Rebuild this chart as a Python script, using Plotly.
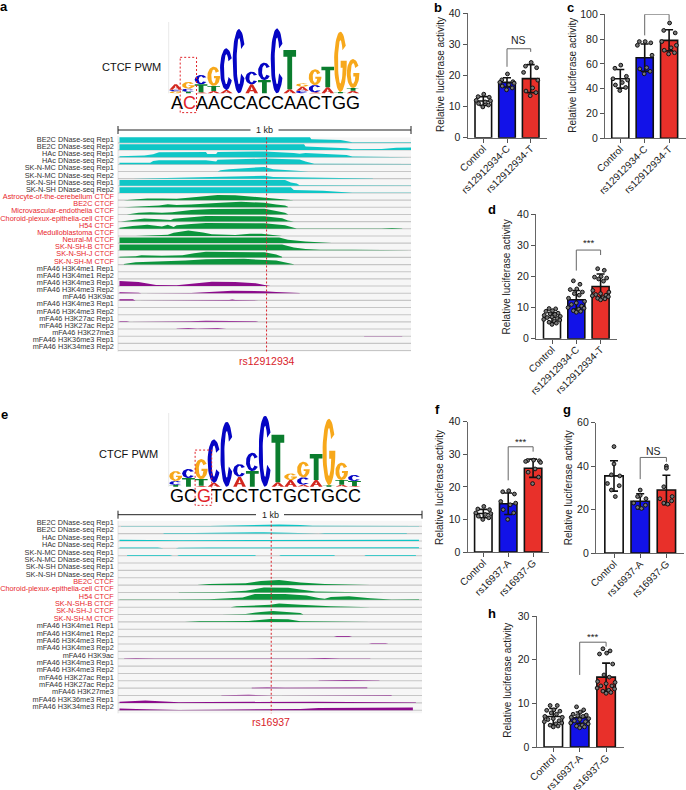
import numpy as np
import plotly.graph_objects as go

W, H = 686, 790
FONT = "Liberation Sans"

# ---------- bar panel data ----------
CATS_B = ["Control", "rs12912934-C", "rs12912934-T"]
CATS_F = ["Control", "rs16937-A", "rs16937-G"]

MEAN_B = [11.8, 17.8, 19.0]
SD_B = [1.4, 1.5, 4.5]
PTS_B = [[14.0, 13.2, 13.0, 12.0, 11.9, 11.5, 11.0, 10.5, 9.9],
         [20.5, 18.6, 18.0, 17.8, 17.5, 17.0, 16.6, 16.0, 15.4],
         [24.2, 23.0, 22.5, 21.0, 18.5, 16.0, 15.0, 14.5, 13.5]]
MEAN_C = [48, 65, 79]
SD_C = [7.5, 11, 8.5]
PTS_C = [[59, 56.5, 50, 48, 47, 45, 43, 41, 38.5],
         [78, 78, 77, 75, 67, 57, 56, 54, 52],
         [93, 87, 85, 78, 75, 73, 71, 69, 68]]
MEAN_D = [6.8, 12.5, 16.8]
SD_D = [1.5, 3.0, 4.0]
PTS_D = [[9.7, 9.6, 9, 8.8, 8.2, 8, 7.8, 7.5, 7.2, 7, 6.8, 6.5, 6.2, 6, 5.6, 5.3, 5, 4.6],
         [18.6, 17.5, 16, 15.8, 15, 14.5, 14, 13, 12, 11.5, 11, 10.5, 10, 9.8, 9.5, 9, 8.8, 8.5],
         [22.5, 22, 20, 19.8, 19.5, 19.2, 18.5, 15.5, 15, 14.5, 14.2, 14, 13.8, 13.5, 13.2, 13, 12.8, 12.5]]
MEAN_F = [11.8, 14.8, 25.7]
SD_F = [1.3, 3.3, 2.8]
PTS_F = [[14, 13.2, 13, 12, 11.8, 11.5, 11, 10.5, 10],
         [18.8, 18.5, 17.8, 15.5, 15, 14.5, 13, 12, 10],
         [28.2, 28.1, 28, 27.8, 27.5, 25.5, 24.5, 23, 21]]
MEAN_G = [35.5, 23.8, 29]
SD_G = [7, 3.5, 6.8]
PTS_G = [[49, 41, 36, 35.5, 32, 31, 29, 26],
         [29, 26.5, 26, 25, 23, 22, 21, 20.5],
         [40, 39, 30.5, 26, 25, 24, 23, 22.5]]
MEAN_H = [7, 6.7, 16]
SD_H = [1.8, 1.3, 3.2]
PTS_H = [[9.5, 9.5, 8.5, 8.4, 8.2, 7.8, 7.5, 7, 6.8, 6.5, 6.3, 6, 5.8, 5.5, 5.3, 5, 4.8, 4.6],
         [9.2, 8.5, 8, 7.5, 7.3, 7.2, 7, 6.8, 6.5, 6.3, 6, 5.8, 5.5, 5.3, 5, 4.8, 4.6, 4.4],
         [22.5, 22, 21.5, 21.3, 19, 16.5, 16, 15, 14.8, 14.5, 14, 14, 13.5, 13.3, 13, 12.8, 12.5, 12.3]]

OFFSET_9 = [0.02, -0.22, 0.25, -0.3, 0.3, 0.08, -0.2, 0.22, -0.02]
OFFSET_8 = [0.0, 0.0, -0.1, 0.22, -0.25, 0.2, -0.1, 0.05]
OFFSET_18 = [-0.12, 0.15, 0.02, -0.25, 0.25, -0.08, 0.12, -0.32, 0.34, 0.0,
             -0.2, 0.22, -0.34, 0.32, 0.1, -0.12, 0.18, 0.0]

BAR_COLORS = ["#ffffff", "#1212e8", "#e8302a"]

# ---------- logo data: (letter, information height) from bottom to top ----------
LOGO_A = [[("G", .06), ("C", .05), ("A", .16)],
          [("T", .05), ("C", .09), ("G", .2)],
          [("A", .03), ("T", .24), ("C", .28)],
          [("A", .07), ("T", .15), ("G", .58)],
          [("A", .1), ("C", 1.25)],
          [("C", 1.93)],
          [("A", .27), ("C", .38)],
          [("T", .4), ("C", .52)],
          [("C", 1.95)],
          [("A", .12), ("T", 1.18)],
          [("C", .08), ("A", .12), ("G", .1)],
          [("A", .03), ("C", .22), ("G", .47)],
          [("A", .18), ("T", .62)],
          [("T", .04), ("G", 1.81)],
          [("A", .08), ("T", .08), ("G", .87)]]
LOGO_E = [[("T", .05), ("C", .12), ("G", .3)],
          [("T", .26), ("C", .27)],
          [("A", .03), ("T", .2), ("G", .6)],
          [("A", .12), ("C", 1.3)],
          [("C", 1.95)],
          [("A", .3), ("C", .38)],
          [("T", .47), ("C", .55)],
          [("C", 2.13)],
          [("A", .13), ("T", 1.43)],
          [("A", .2), ("G", .2)],
          [("A", .06), ("C", .22), ("G", .47)],
          [("A", .2), ("T", .78)],
          [("T", .04), ("G", 2.0)],
          [("A", .06), ("T", .14), ("G", .52)],
          [("A", .02), ("T", .15), ("C", .18)]]
SEQ_A = 'A<span style="color:#e0242a">C</span>AACCACCAACTGG'
SEQ_E = 'GC<span style="color:#e0242a">G</span>TCCTCTGCTGCC'
LETTER_COLORS = {"A": "#d3281f", "C": "#0505c4", "G": "#f7a81b", "T": "#0b7d2e"}

# ---------- track data ----------
DNASE_LABELS = ["BE2C DNase-seq Rep1", "BE2C DNase-seq Rep2", "HAc DNase-seq Rep1", "HAc DNase-seq Rep2",
                "SK-N-MC DNase-seq Rep1", "SK-N-MC DNase-seq Rep2", "SK-N-SH DNase-seq Rep1", "SK-N-SH DNase-seq Rep2"]
CTCF_LABELS_A = ["Astrocyte-of-the-cerebellum CTCF", "BE2C CTCF", "Microvascular-endothelia CTCF",
                 "Choroid-plexux-epithelia-cell CTCF", "H54 CTCF", "Medulloblastoma CTCF", "Neural-M CTCF",
                 "SK-N-SH-B CTCF", "SK-N-SH-J CTCF", "SK-N-SH-M CTCF"]
CTCF_LABELS_E = ["BE2C CTCF", "Choroid-plexux-epithelia-cell CTCF", "H54 CTCF",
                 "SK-N-SH-B CTCF", "SK-N-SH-J CTCF", "SK-N-SH-M CTCF"]
HIST_LABELS = ["mFA46 H3K4me1 Rep1", "mFA46 H3K4me1 Rep2", "mFA46 H3K4me3 Rep1", "mFA46 H3K4me3 Rep2",
               "mFA46 H3K9ac", "mFA46 H3K4me3 Rep1", "mFA46 H3K4me3 Rep2", "mFA46 H3K27ac Rep1",
               "mFA46 H3K27ac Rep2", "mFA46 H3K27me3", "mFA46 H3K36me3 Rep1", "mFA46 H3K34me3 Rep2"]

DNASE_A = [
    [(5, 1), (655, 1), (660, .65), (760, .5), (782, .35), (800, .12), (1000, .12)],
    [(5, 1), (635, 1), (640, .6), (780, .3), (800, .15), (900, .2), (950, .4), (1000, .45)],
    [(5, .15), (90, .3), (120, .5), (140, .85), (300, .9), (305, .55), (335, .55), (340, .9), (500, 1), (600, .75),
     (620, .6), (640, .75), (780, .4), (800, .1), (1000, .05)],
    [(5, .3), (110, .3), (120, .6), (140, .7), (300, .7), (335, .5), (340, .8), (500, 1), (620, .85), (640, .5),
     (660, .3), (670, .1), (1000, .05)],
    [(340, 0), (350, .2), (380, .4), (480, .7), (500, .8), (530, .4), (600, .1), (650, 0)],
    [(50, 0), (150, .1), (200, .2), (300, .2), (450, .4), (500, .5), (530, .3), (650, .2), (700, .25), (800, .2),
     (830, .05), (870, .02)],
    [(5, 1), (570, 1), (590, .6), (610, .4), (620, .1), (1000, .05)],
    [(5, 1), (590, 1), (600, .5), (700, .4), (780, .2), (800, .05), (1000, .03)],
]
CTCF_A = [
    [(20, 0), (50, .15), (100, .3), (150, .3), (200, .25), (240, .4), (300, .7), (340, .9), (400, .85), (450, .65),
     (500, .35), (570, .15), (600, 0)],
    [(20, 0), (100, .15), (140, .3), (170, .55), (200, .4), (250, .5), (300, .7), (350, .8), (420, .95), (500, .8),
     (540, .5), (570, .3), (580, .1)],
    [(30, 0), (70, .3), (110, .4), (150, .3), (185, .4), (250, .8), (320, .95), (500, 1), (540, .6), (570, .3), (580, .05)],
    [(10, 0), (50, .25), (90, .55), (140, .4), (180, .3), (190, .5), (250, .8), (300, 1), (500, .95), (560, .6),
     (580, .2), (600, .05)],
    [(5, .2), (50, .5), (100, .7), (150, .4), (170, .7), (190, .3), (200, .6), (250, .85), (300, 1), (500, .95),
     (570, .6), (600, .2), (610, .05), (900, .03), (935, .15), (970, .03)],
    [(60, 0), (110, .1), (170, .2), (190, .55), (240, .95), (290, .6), (320, .3), (400, .15), (420, .25), (450, .4),
     (490, .4), (530, .15), (560, .05)],
    [(5, 1), (550, 1), (580, .6), (640, .3), (720, .05), (730, 0)],
    [(5, 1), (560, 1), (600, .5), (640, .2), (690, .1), (800, .1), (1000, .05)],
    [(5, .1), (60, .2), (80, .4), (150, .3), (220, .4), (260, .75), (300, 1), (500, .9), (540, .5), (560, .1)],
    [(20, .1), (60, .4), (120, .5), (170, .7), (230, .7), (300, .95), (430, 1), (540, .7), (590, .25), (600, .05)],
]
HIST_A = [
    [], [],
    [(5, .9), (70, .7), (130, .2), (200, .15), (250, .4), (320, .75), (400, .7), (470, .5), (500, .2), (520, .05)],
    [(5, .15), (70, .1), (80, 0), (250, .05), (300, .2), (390, .45), (500, .35), (540, .2), (620, .05)],
    [(5, .2), (50, .2), (60, 0), (380, .05), (390, .15), (400, .05), (450, .05), (470, .1), (480, 0)],
    [], [],
    [(5, .1), (30, .1), (40, 0), (245, .1), (300, .2), (470, .1), (480, 0)],
    [(200, .05), (240, .15), (270, .05), (340, .15), (370, .05)],
    [(840, .05), (970, .05)],
    [], [],
]
DNASE_E = [
    [(10, .05), (300, .05), (390, .15), (470, .3), (530, .3), (600, .2), (640, .1), (990, .05)],
    [(150, .1), (250, .1), (380, .15), (480, .25), (560, .15), (620, .05), (660, 0), (680, .1), (950, .1)],
    [(5, .2), (200, .12), (430, .15), (700, .12), (990, .2)],
    [(5, .12), (130, .15), (150, 0), (190, 0), (200, .1), (300, .12), (500, .15), (700, .2), (990, .2)],
    [(30, .1), (170, .1), (180, 0), (195, 0), (200, .1), (450, .1), (455, 0), (530, 0), (535, .1), (710, .1), (715, 0),
     (810, 0), (815, .1), (980, .1)],
    [], [], [],
]
CTCF_E = [
    [(30, .03), (260, .03), (300, .2), (420, .3), (470, .7), (530, .85), (600, .45), (680, .2), (830, .03)],
    [(200, .03), (350, .1), (420, .3), (480, .85), (560, .8), (600, .5), (650, .15), (750, .1), (880, .03)],
    [(5, .05), (200, .05), (300, .1), (410, .4), (430, .7), (450, 1), (550, 1), (620, .75), (660, .3), (680, .2),
     (700, .5), (760, .6), (830, .25), (900, .05), (990, .1)],
    [(370, 0), (390, .15), (500, .4), (530, .65), (600, .4), (700, .15), (800, .05), (830, 0)],
    [(340, 0), (420, .1), (470, .45), (510, .6), (600, .25), (610, 0)],
    [(220, 0), (270, .1), (350, .1), (430, .15), (500, .5), (560, .45), (600, .1), (680, .05), (830, .05)],
]
HIST_E = [
    [],
    [(710, 0), (720, .12), (760, .1), (770, 0)],
    [(825, 0), (835, .1), (880, .1), (890, 0)],
    [],
    [(20, .05), (60, .1), (120, .05), (620, .05), (680, .12), (730, .05), (830, .05)],
    [], [],
    [(660, .05), (750, .15), (800, .15), (860, .05)],
    [(440, .05), (490, .1), (550, .05), (820, .1)],
    [(340, .03), (430, .12), (500, .1), (520, 0), (900, .1)],
    [(5, .2), (90, .4), (200, .1), (300, .15), (500, .2), (560, .3), (650, .2), (980, .05)],
    [(5, .3), (60, .2), (200, .05), (300, .1), (600, .2), (660, .4), (850, .5), (970, .45)],
]

TEAL, GREEN, PURPLE = "#0fc6c6", "#0c953d", "#8c0c8c"
RED_TXT, BLK_TXT = "#e8262c", "#333333"

fig = go.Figure()
annotations, shapes = [], []
layout_axes = {}
axis_count = 0


def fx(px):
    return px / W


def fy(px):
    return 1 - px / H


def new_axes(x0, x1, y_top, y_bot, xrange, yrange, **kw):
    global axis_count
    axis_count += 1
    n = "" if axis_count == 1 else str(axis_count)
    layout_axes["xaxis" + n] = dict(domain=[fx(x0), fx(x1)], range=xrange, anchor="y" + n, showgrid=False,
                                    zeroline=False, visible=False, fixedrange=True, automargin=False)
    layout_axes["yaxis" + n] = dict(domain=[fy(y_bot), fy(y_top)], range=yrange, anchor="x" + n, showgrid=False,
                                    zeroline=False, visible=False, fixedrange=True, automargin=False)
    return "x" + n, "y" + n, n


def label(text, px, py, size, color="#222222", **kw):
    annotations.append(dict(text=text, x=fx(px), y=fy(py), xref="paper", yref="paper", showarrow=False,
                            font=dict(family=FONT, size=size, color=color), xanchor=kw.pop("xanchor", "center"),
                            yanchor="middle", **kw))


def bar_panel(box, ymax, yticks, cats, means, sds, pts, offsets, bracket, sig, title_px, bar_w=0.7):
    x0, x1, ytop, ybot, c0, step = box
    xr = [(x0 - c0) / step, (x1 - c0) / step]
    xa, ya, n = new_axes(x0, x1, ytop, ybot, xr, [0, ymax])
    layout_axes["xaxis" + n].update(visible=True, tickvals=[0, 1, 2], ticktext=cats, tickangle=-45, ticks="outside",
                                    ticklen=4, tickwidth=1, tickcolor="#555555", showline=True, linecolor="#666666",
                                    linewidth=1.3, ticklabelstandoff=-4,
                                    tickfont=dict(family=FONT, size=10, color="#222222"))
    layout_axes["yaxis" + n].update(visible=True, tickvals=yticks, ticks="outside", ticklen=4, tickwidth=1,
                                    tickcolor="#555555", showline=True, linecolor="#666666", linewidth=1.3,
                                    tickfont=dict(family=FONT, size=10.5, color="#222222"))
    fig.add_trace(go.Bar(x=[0, 1, 2], y=means, width=bar_w, xaxis=xa, yaxis=ya,
                         marker=dict(color=BAR_COLORS, line=dict(color="#111111", width=1.6)),
                         error_y=dict(type="data", array=sds, color="#111111", thickness=1.6, width=4)))
    for i, vals in enumerate(pts):
        xs = [i + offsets[j] for j in range(len(vals))]
        fig.add_trace(go.Scatter(x=xs, y=vals, mode="markers", xaxis=xa, yaxis=ya, cliponaxis=False,
                                 marker=dict(size=3.8, color="#777777", line=dict(color="#111111", width=1))))
    left_low, top, right_low, sig_y = bracket
    fig.add_trace(go.Scatter(x=[1, 1, 2, 2], y=[left_low, top, top, right_low], mode="lines", xaxis=xa, yaxis=ya,
                             cliponaxis=False, line=dict(color="#666666", width=1)))
    annotations.append(dict(text=sig, x=1.5, y=sig_y, xref=xa, yref=ya, showarrow=False, yanchor="middle",
                            font=dict(family=FONT, size=10.5 if sig == "NS" else 9.5, color="#222222")))
    label("Relative luciferase activity", title_px[0], title_px[1], 10, textangle=-90)


bar_panel((467.7, 546.7, 13.3, 137.7, 483.3, 23.7), 40, [0, 10, 20, 30, 40], CATS_B, MEAN_B, SD_B, PTS_B, OFFSET_9,
          (22.8, 28.6, 27.6, 31.5), "NS", (440, 75))
bar_panel((605, 686, 14.3, 138.3, 620.3, 24.4), 100, [0, 20, 40, 60, 80, 100], CATS_B, MEAN_C, SD_C, PTS_C, OFFSET_9,
          (83, 100, 95, 104), "*", (571.7, 75))
bar_panel((536, 617, 214.3, 338.7, 552, 24.3), 40, [0, 10, 20, 30, 40], CATS_B, MEAN_D, SD_D, PTS_D, OFFSET_18,
          (21.9, 28.5, 26.9, 31), "***", (506.7, 276.7))
bar_panel((467.7, 549, 421.7, 552, 483.3, 24.9), 40, [0, 10, 20, 30, 40], CATS_F, MEAN_F, SD_F, PTS_F, OFFSET_9,
          (22, 32.3, 30.8, 34), "***", (440, 488))
bar_panel((596, 684, 422.7, 553, 614, 26.2), 60, [0, 20, 40, 60], CATS_F, MEAN_G, SD_G, PTS_G, OFFSET_8,
          (34, 44, 42, 47), "NS", (569.3, 488))
bar_panel((536.7, 624, 616, 747, 553.3, 26.4), 30, [0, 10, 20, 30], CATS_F, MEAN_H, SD_H, PTS_H, OFFSET_18,
          (16.5, 24, 23, 25.3), "***", (506.7, 680))


# ---------- unit glyph outlines for the sequence logo ----------
def ellipse(rx, ry, a0, a1, m=40):
    t = np.radians(np.linspace(a0, a1, m))
    return rx * np.cos(t), 0.5 + ry * np.sin(t)


def glyph(letter):
    if letter == "T":
        return ([-.5, .5, .5, .19, .19, -.19, -.19, -.5], [1, 1, .83, .83, 0, 0, .83, .83])
    if letter == "A":
        return ([-.5, -.1, .1, .5, .22, .14, 0, 0, .09, 0, -.09, 0, 0, -.14, -.22, -.5],
                [0, 1, 1, 0, 0, .24, .24, .36, .36, .72, .36, .36, .24, .24, 0, 0])
    if letter == "C":
        ox, oy = ellipse(.5, .5, 32, 328)
        ix, iy = ellipse(.19, .36, 328, 32)
        return (list(ox) + list(ix), list(oy) + list(iy))
    ox, oy = ellipse(.5, .5, 32, 352)
    ix, iy = ellipse(.19, .36, 352, 32)
    return (list(ox) + [.5, .02, .02, .19] + list(ix), list(oy) + [.52, .52, .4, .4] + list(iy))


def logo(col0_px, col_step, base_px, unit_px, stacks, box_cols, box_bits, top_px, box_color="#e0242a"):
    x0, x1, ytop, ybot = 150, 380, top_px, base_px + 36
    xr = [(x0 - col0_px) / col_step, (x1 - col0_px) / col_step]
    yr = [(base_px - ybot) / unit_px, (base_px - ytop) / unit_px]
    xa, ya, n = new_axes(x0, x1, ytop, ybot, xr, yr)
    left = -7 / col_step
    fig.add_trace(go.Scatter(x=[left, left], y=[0, (base_px - top_px) / unit_px], mode="lines", xaxis=xa, yaxis=ya,
                             line=dict(color="#e2e2e2", width=0.8)))
    for c, stack in enumerate(stacks):
        b = 0
        for letter, h in stack:
            gx, gy = glyph(letter)
            fig.add_trace(go.Scatter(x=[c + 1.0 * v for v in gx], y=[b + h * v for v in gy], mode="lines", fill="toself",
                                     fillcolor=LETTER_COLORS[letter], xaxis=xa, yaxis=ya,
                                     line=dict(width=0, color=LETTER_COLORS[letter])))
            b += h
    bx0, bx1 = box_cols
    by0, by1 = box_bits
    fig.add_trace(go.Scatter(x=[bx0, bx1, bx1, bx0, bx0], y=[by1, by1, by0, by0, by1], mode="lines", xaxis=xa, yaxis=ya,
                             line=dict(color=box_color, width=1, dash="2px,2px")))


logo(175.7, 12.67, 93.3, 33.3, LOGO_A, (.355, 1.645), (-.58, 1.08), 22)
label(SEQ_A, 265, 102.7, 18, color="#000000")
label("CTCF PWM", 131.7, 66.7, 11, color="#111111")
logo(175.7, 12.77, 486.7, 33.3, LOGO_E, (1.52, 2.82), (-.56, 1.1), 413)
label(SEQ_E, 265.5, 496, 18, color="#000000")
label("CTCF PWM", 128, 454, 11, color="#111111")


# ---------- genome browser tracks ----------
def tracks(x0_px, x1_px, first_py, step_py, bottom_py, bar_py, groups, snp_bp, snp_name, snp_py):
    span = (x1_px - x0_px) / 1000
    ax0, ax1, atop, abot = 0, 430, bar_py - 8, snp_py + 8
    xr = [(ax0 - x0_px) / span, (ax1 - x0_px) / span]
    yr = [(abot - first_py) / step_py, (atop - first_py) / step_py]
    xa, ya, n = new_axes(ax0, ax1, atop, abot, xr, yr)
    row_top = -2.5 / step_py
    row_bot = (bottom_py - first_py) / step_py
    shapes.append(dict(type="rect", xref=xa, yref=ya, x0=0, x1=1000, y0=row_top, y1=row_bot, layer="below",
                       fillcolor="#f6f6f6", line=dict(width=0)))
    fig.add_trace(go.Scatter(x=[0, 0], y=[(bar_py + 6 - first_py) / step_py, row_bot], mode="lines", xaxis=xa, yaxis=ya,
                             line=dict(color="#dddddd", width=0.8)))
    row = 0
    lab_x, lab_y, lab_t, lab_c = [], [], [], []
    for labels, rows, col, tcol in groups:
        for name, pts in zip(labels, rows):
            base = row + 0.40
            fig.add_trace(go.Scatter(x=[0, 1000], y=[base, base], mode="lines", xaxis=xa, yaxis=ya,
                                     line=dict(color="#c6c6c6", width=1.1)))
            if pts:
                xs = [pts[0][0]] + [p[0] for p in pts] + [pts[-1][0]]
                ys = [base] + [base - 0.8 * p[1] for p in pts] + [base]
                fig.add_trace(go.Scatter(x=xs, y=ys, mode="lines", fill="toself", fillcolor=col, xaxis=xa, yaxis=ya,
                                         line=dict(width=0, color=col)))
            lab_x.append(-14)
            lab_y.append(row)
            lab_t.append(name)
            lab_c.append(tcol)
            row += 1
    fig.add_trace(go.Scatter(x=lab_x, y=lab_y, text=lab_t, mode="text", textposition="middle left", xaxis=xa, yaxis=ya,
                             cliponaxis=False, textfont=dict(family=FONT, size=7.3, color=lab_c)))
    ybar = (bar_py - first_py) / step_py
    tick = 4 / step_py
    gap = 14 / span
    mid = 500
    fig.add_trace(go.Scatter(x=[0, 0, None, 0, mid - gap, None, mid + gap, 1000, None, 1000, 1000],
                             y=[ybar - tick, ybar + tick, None, ybar, ybar, None, ybar, ybar, None, ybar - tick, ybar + tick],
                             mode="lines", xaxis=xa, yaxis=ya, line=dict(color="#222222", width=1)))
    annotations.append(dict(text="1 kb", x=mid, y=ybar, xref=xa, yref=ya, showarrow=False,
                            font=dict(family=FONT, size=9, color="#222222")))
    fig.add_trace(go.Scatter(x=[snp_bp, snp_bp], y=[row_top, row_bot], mode="lines", xaxis=xa, yaxis=ya,
                             line=dict(color="#d9232a", width=1, dash="2px,2px")))
    annotations.append(dict(text=snp_name, x=snp_bp, y=(snp_py - first_py) / step_py, xref=xa, yref=ya, showarrow=False,
                            font=dict(family=FONT, size=10.5, color="#d9232a")))


tracks(118, 411, 140, 7.16, 351.7, 130,
       [(DNASE_LABELS, DNASE_A, TEAL, BLK_TXT), (CTCF_LABELS_A, CTCF_A, GREEN, RED_TXT), (HIST_LABELS, HIST_A, PURPLE, BLK_TXT)],
       507, "rs12912934", 361.5)
tracks(118, 422, 523.3, 7.36, 713.3, 514.7,
       [(DNASE_LABELS, DNASE_E, TEAL, BLK_TXT), (CTCF_LABELS_E, CTCF_E, GREEN, RED_TXT), (HIST_LABELS, HIST_E, PURPLE, BLK_TXT)],
       504, "rs16937", 721.7)

# ---------- panel letters ----------
PANEL_LETTERS = [("a", 4, 6), ("b", 438, 7), ("c", 570, 7), ("d", 492, 209),
                 ("e", 4, 414), ("f", 437, 409), ("g", 567, 409), ("h", 492, 613)]
for t, px, py in PANEL_LETTERS:
    label(f"<b>{t}</b>", px, py, 13, color="#000000")

fig.update_layout(width=W, height=H, margin=dict(l=0, r=0, t=0, b=0, autoexpand=False), paper_bgcolor="white",
                  plot_bgcolor="rgba(0,0,0,0)", showlegend=False, annotations=annotations, shapes=shapes,
                  hovermode=False, **layout_axes)
fig.write_html("out.html", config={"displayModeBar": False})

# page margin off, so the 686x790 figure fills the 686x790 window exactly
with open("out.html", encoding="utf-8") as f:
    page = f.read()
page = page.replace("<body>", '<body style="margin:0;overflow:hidden">', 1)
with open("out.html", "w", encoding="utf-8") as f:
    f.write(page)
